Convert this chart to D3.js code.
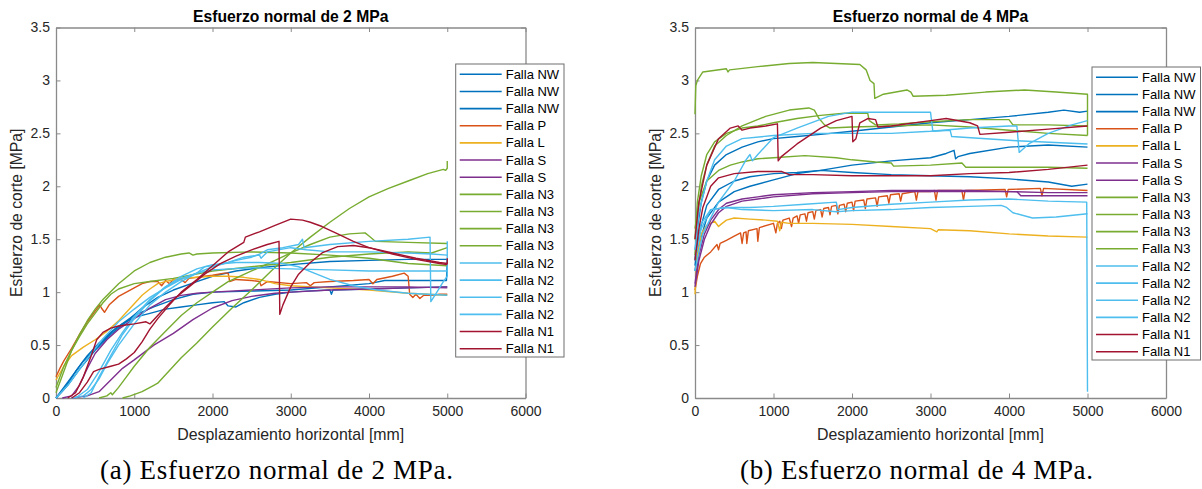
<!DOCTYPE html>
<html><head><meta charset="utf-8">
<script src="https://cdn.jsdelivr.net/npm/d3@7"></script>
<style>body{margin:0;background:#fff}svg{display:block}</style>
</head><body>
<svg id="chart" width="1202" height="489"></svg>
<script>
// ---------- tick labels / legend ----------
const xTicks = [0,1000,2000,3000,4000,5000,6000];
const yTicks = [0,0.5,1,1.5,2,2.5,3,3.5];
const legendLabels = ["Falla NW","Falla NW","Falla NW","Falla P","Falla L","Falla S","Falla S",
  "Falla N3","Falla N3","Falla N3","Falla N3","Falla N2","Falla N2","Falla N2","Falla N2","Falla N1","Falla N1"];
const seriesColors = ["#0072BD","#0072BD","#0072BD","#D95319","#EDB120","#7E2F8E","#7E2F8E",
  "#77AC30","#77AC30","#77AC30","#77AC30","#4DBEEE","#4DBEEE","#4DBEEE","#4DBEEE","#A2142F","#A2142F"];
const titles = ["Esfuerzo normal de 2 MPa","Esfuerzo normal de 4 MPa"];
const captions = ["(a) Esfuerzo normal de 2 MPa.","(b) Esfuerzo normal de 4 MPa."];
const xLabel = "Desplazamiento horizontal [mm]";
const yLabel = "Esfuerzo de corte [MPa]";

// ---------- panel (a): 2 MPa ----------
const a_NW1 = [[0,0],[100,0.08],[250,0.25],[400,0.4],[550,0.52],[700,0.62],[850,0.7],[1000,0.76],[1100,0.78],[1200,0.8],[1400,0.84],[1600,0.86],[1800,0.88],[2000,0.9],[2150,0.91],[2200,0.87],[2300,0.86],[2400,0.9],[2600,0.95],[2800,0.98],[3000,1.0],[3200,1.01],[3500,1.02],[3520,0.98],[3540,1.02],[4000,1.03],[4500,1.04],[5000,1.05]];
const a_NW2 = [[0,0],[150,0.12],[300,0.27],[500,0.45],[700,0.6],[900,0.72],[1100,0.85],[1300,0.95],[1500,1.02],[1800,1.1],[2000,1.15],[2300,1.2],[2600,1.23],[3000,1.26],[3500,1.29],[4000,1.3],[4500,1.31],[5000,1.31]];
const a_NW3 = [[0,0],[150,0.15],[350,0.35],[550,0.5],[750,0.65],[1000,0.78],[1250,0.86],[1500,0.93],[1750,0.98],[2000,1.0],[2500,1.01],[3000,1.02],[3500,1.05],[4000,1.08],[4200,1.11],[4990,1.11],[5000,1.31]];
const a_P = [[0,0.2],[50,0.28],[100,0.35],[200,0.47],[300,0.6],[400,0.72],[500,0.82],[560,0.88],[580,0.85],[620,0.81],[680,0.88],[800,0.96],[900,1.0],[1000,1.04],[1100,1.08],[1200,1.1],[1300,1.1],[1350,1.06],[1400,1.11],[1450,1.08],[1500,1.12],[1600,1.12],[1650,1.09],[1700,1.13],[1900,1.15],[2000,1.16],[2150,1.18],[2200,1.18],[2220,1.1],[2300,1.12],[2500,1.11],[2600,1.1],[2620,1.06],[2700,1.1],[3000,1.08],[3200,1.09],[3250,1.06],[3300,1.09],[3500,1.1],[3800,1.11],[4000,1.12],[4050,1.08],[4100,1.12],[4300,1.15],[4450,1.18],[4500,1.15],[4520,0.98],[4560,0.95],[4600,0.98],[4650,0.94],[4700,0.97],[4800,0.97],[4900,0.98],[5000,0.98]];
const a_L = [[0,0.17],[100,0.3],[200,0.4],[350,0.48],[500,0.55],[650,0.63],[800,0.73],[950,0.85],[1100,0.97],[1200,1.03],[1300,1.08],[1400,1.1],[1600,1.13],[1800,1.14],[2000,1.15],[2200,1.15],[2400,1.14],[2600,1.12],[2800,1.08],[3000,1.06],[3500,1.04],[4000,1.02],[4500,0.99],[5000,0.97]];
const a_S1 = [[80,0],[200,0.02],[300,0.12],[400,0.28],[500,0.42],[650,0.55],[800,0.65],[1000,0.75],[1200,0.85],[1400,0.93],[1600,0.97],[1800,0.99],[2000,1.0],[2500,1.02],[3000,1.04],[3500,1.05],[4000,1.05],[4500,1.05],[5000,1.04]];
const a_S2 = [[200,0],[400,0.02],[550,0.06],[700,0.17],[850,0.28],[1000,0.36],[1250,0.5],[1500,0.61],[1750,0.74],[2000,0.85],[2250,0.92],[2500,0.96],[2800,0.99],[3000,1.0],[3500,1.02],[4000,1.03],[4500,1.04],[5000,1.05]];
const a_N3_1 = [[850,0],[950,0.02],[1100,0.06],[1250,0.12],[1300,0.14],[1400,0.22],[1600,0.38],[1800,0.52],[2000,0.67],[2250,0.85],[2500,1.02],[2750,1.2],[3000,1.37],[3250,1.52],[3500,1.66],[3750,1.79],[4000,1.9],[4250,1.98],[4500,2.05],[4750,2.12],[4950,2.16],[4980,2.15],[5000,2.17],[5000,2.24]];
const a_N3_2 = [[0,0.05],[100,0.25],[200,0.45],[300,0.6],[400,0.73],[500,0.84],[600,0.93],[800,1.08],[1000,1.2],[1200,1.28],[1400,1.33],[1600,1.36],[1700,1.37],[1750,1.35],[1800,1.36],[2000,1.37],[2500,1.38],[3000,1.37],[3500,1.35],[4000,1.32],[4500,1.27],[5000,1.25]];
const a_N3_3 = [[0,0.1],[100,0.3],[200,0.45],[300,0.58],[400,0.7],[500,0.8],[600,0.9],[700,0.98],[800,1.03],[1000,1.08],[1200,1.1],[1500,1.13],[2000,1.2],[2500,1.24],[3000,1.28],[3500,1.33],[4000,1.36],[4500,1.38],[4800,1.37],[5000,1.42]];
const a_N3_4 = [[550,0],[650,0.02],[700,0.05],[720,0.03],[800,0.1],[900,0.2],[1000,0.3],[1200,0.48],[1400,0.63],[1600,0.78],[1800,0.9],[2000,1.0],[2200,1.1],[2500,1.2],[2800,1.3],[3000,1.37],[3250,1.45],[3500,1.52],[3750,1.55],[3950,1.56],[4000,1.53],[4080,1.48],[4500,1.47],[5000,1.46]];
const a_N2_1 = [[200,0],[350,0.02],[450,0.08],[550,0.18],[650,0.32],[800,0.5],[1000,0.7],[1200,0.88],[1400,1.0],[1600,1.1],[1800,1.18],[2000,1.24],[2300,1.3],[2500,1.33],[2600,1.36],[2700,1.4],[2900,1.42],[3100,1.45],[3150,1.5],[3170,1.42],[3500,1.45],[4000,1.48],[4500,1.5],[4780,1.52],[4790,0.91],[4850,0.98],[4950,1.1],[5000,1.15],[5000,1.48]];
const a_N2_2 = [[350,0],[450,0.05],[550,0.2],[700,0.4],[850,0.6],[1000,0.75],[1200,0.92],[1400,1.05],[1600,1.15],[1800,1.22],[2000,1.26],[2300,1.28],[2600,1.28],[2900,1.27],[3100,1.24],[3300,1.18],[3500,1.12],[3800,1.06],[4100,1.02],[4500,0.99],[5000,0.97]];
const a_N2_3 = [[0,0],[150,0.12],[300,0.27],[450,0.42],[600,0.56],[800,0.72],[1000,0.84],[1200,0.95],[1400,1.04],[1600,1.12],[1800,1.18],[1900,1.24],[2000,1.25],[2200,1.28],[2400,1.33],[2600,1.35],[2620,1.32],[2700,1.38],[3000,1.42],[3200,1.4],[3500,1.38],[4000,1.38],[4500,1.37],[4800,1.36],[5000,1.35]];
const a_N2_4 = [[250,0],[400,0.08],[550,0.25],[700,0.45],[850,0.62],[1000,0.77],[1200,0.93],[1400,1.05],[1600,1.13],[1800,1.18],[2000,1.21],[2500,1.23],[3000,1.22],[3500,1.21],[4000,1.2],[4500,1.2],[5000,1.2]];
const a_N1_1 = [[150,0],[250,0.05],[350,0.2],[450,0.4],[520,0.55],[600,0.62],[700,0.66],[800,0.68],[1000,0.7],[1150,0.72],[1200,0.7],[1250,0.74],[1350,0.82],[1500,0.93],[1700,1.05],[1900,1.17],[2100,1.27],[2300,1.34],[2500,1.4],[2700,1.45],[2850,1.48],[2860,0.79],[2900,0.88],[3000,1.05],[3100,1.17],[3250,1.28],[3400,1.37],[3600,1.43],[3800,1.44],[4000,1.42],[4300,1.37],[4600,1.32],[4900,1.28],[5000,1.27],[5000,1.32]];
const a_N1_2 = [[200,0],[300,0.05],[400,0.15],[480,0.25],[550,0.27],[700,0.3],[800,0.32],[900,0.37],[1000,0.43],[1100,0.53],[1200,0.65],[1300,0.75],[1450,0.88],[1600,1.0],[1800,1.12],[2000,1.25],[2200,1.38],[2400,1.47],[2420,1.52],[2600,1.57],[2800,1.63],[3000,1.69],[3150,1.68],[3250,1.66],[3400,1.62],[3600,1.55],[3800,1.48],[4000,1.42],[4300,1.36],[4600,1.31],[4900,1.27],[5000,1.26]];

// ---------- panel (b): 4 MPa ----------
const b_NW1 = [[0,1.3],[30,1.6],[80,1.85],[150,2.05],[250,2.2],[400,2.3],[600,2.37],[800,2.42],[1000,2.45],[1300,2.47],[1600,2.49],[2000,2.52],[2500,2.56],[3000,2.6],[3500,2.63],[4000,2.66],[4500,2.7],[4700,2.72],[4900,2.7],[5000,2.71]];
const b_NW2 = [[0,1.2],[50,1.45],[150,1.7],[300,1.85],[500,1.95],[700,2.0],[1000,2.06],[1300,2.12],[1600,2.15],[2000,2.2],[2500,2.24],[3000,2.27],[3200,2.31],[3300,2.34],[3320,2.26],[3350,2.28],[3500,2.31],[4000,2.37],[4500,2.39],[5000,2.37]];
const b_NW3 = [[0,1.25],[50,1.55],[150,1.82],[300,1.97],[500,2.05],[700,2.09],[1000,2.12],[1300,2.13],[1600,2.15],[2000,2.13],[2500,2.11],[3000,2.1],[3500,2.09],[4000,2.07],[4500,2.04],[4800,2.0],[5000,2.02]];
const b_P = [[0,1.02],[30,1.15],[70,1.27],[120,1.33],[200,1.38],[280,1.45],[300,1.4],[320,1.46],[400,1.49],[500,1.53],[580,1.56],[600,1.46],[620,1.56],[650,1.57],[660,1.46],[680,1.58],[790,1.6],[800,1.48],[820,1.61],[1000,1.65],[1030,1.56],[1050,1.65],[1080,1.67],[1100,1.6],[1120,1.68],[1200,1.7],[1230,1.62],[1250,1.7],[1300,1.72],[1320,1.65],[1340,1.73],[1400,1.74],[1420,1.67],[1440,1.75],[1500,1.76],[1520,1.69],[1540,1.77],[1600,1.78],[1620,1.71],[1640,1.79],[1700,1.8],[1720,1.73],[1740,1.81],[1800,1.82],[1820,1.74],[1840,1.82],[1900,1.83],[1920,1.76],[1940,1.84],[2000,1.85],[2020,1.77],[2040,1.86],[2150,1.87],[2170,1.79],[2190,1.88],[2300,1.89],[2320,1.81],[2340,1.9],[2450,1.91],[2470,1.84],[2490,1.92],[2600,1.93],[2620,1.86],[2640,1.93],[2800,1.95],[2820,1.87],[2840,1.95],[3000,1.95],[3050,1.96],[3070,1.87],[3090,1.96],[3400,1.96],[3420,1.87],[3440,1.96],[3950,1.97],[3970,1.9],[3990,1.97],[4400,1.98],[4420,1.91],[4440,1.98],[5000,1.96]];
const b_L = [[0,0.98],[10,1.1],[30,1.35],[80,1.55],[150,1.63],[250,1.67],[300,1.62],[330,1.64],[400,1.68],[500,1.7],[700,1.69],[900,1.68],[1050,1.67],[1080,1.58],[1100,1.66],[1200,1.65],[1500,1.65],[2000,1.64],[2500,1.62],[3000,1.6],[3080,1.57],[3100,1.59],[3500,1.58],[4000,1.55],[4500,1.53],[5000,1.52]];
const b_S1 = [[0,1.08],[50,1.35],[120,1.55],[200,1.68],[300,1.78],[400,1.84],[600,1.88],[800,1.9],[1000,1.92],[1500,1.94],[2000,1.95],[2500,1.96],[3000,1.96],[3500,1.96],[4000,1.95],[4500,1.94],[5000,1.94]];
const b_S2 = [[0,1.05],[50,1.3],[120,1.5],[200,1.64],[300,1.75],[400,1.81],[600,1.86],[800,1.88],[1000,1.9],[1500,1.93],[2000,1.94],[2500,1.95],[3000,1.95],[3500,1.95],[4100,1.95],[4150,1.91],[4500,1.91],[5000,1.91]];
const b_N3_1 = [[0,2.68],[10,2.95],[30,3.0],[100,3.08],[400,3.11],[420,3.08],[440,3.1],[800,3.13],[1200,3.16],[1500,3.17],[1800,3.16],[2100,3.15],[2180,3.1],[2230,3.0],[2280,2.97],[2290,2.83],[2400,2.87],[2700,2.91],[2750,2.89],[2780,2.85],[3200,2.86],[3700,2.89],[4200,2.91],[4600,2.89],[5000,2.87],[5000,2.48]];
const b_N3_2 = [[0,1.35],[30,1.7],[80,2.0],[150,2.2],[250,2.38],[400,2.48],[600,2.57],[900,2.66],[1200,2.72],[1450,2.74],[1520,2.72],[1580,2.64],[1650,2.58],[1720,2.55],[2000,2.56],[2500,2.57],[3000,2.58],[3500,2.56],[4000,2.53],[4500,2.5],[5000,2.48]];
const b_N3_3 = [[0,1.5],[30,1.85],[80,2.1],[150,2.3],[250,2.42],[400,2.5],[600,2.55],[800,2.57],[1000,2.6],[1300,2.64],[1600,2.67],[1900,2.69],[2200,2.69],[2220,2.62],[2300,2.58],[2600,2.59],[3000,2.61],[3500,2.63],[4000,2.63],[4050,2.58],[4500,2.58],[5000,2.57]];
const b_N3_4 = [[0,1.6],[50,1.85],[150,2.05],[300,2.15],[450,2.2],[600,2.23],[800,2.26],[1000,2.27],[1400,2.29],[1800,2.27],[2000,2.25],[2300,2.23],[2500,2.22],[2530,2.19],[3000,2.2],[3400,2.22],[3450,2.18],[4000,2.18],[4500,2.18],[5000,2.17]];
const b_N2_1 = [[0,1.2],[100,1.55],[300,1.85],[500,2.05],[650,2.25],[700,2.3],[730,2.24],[800,2.3],[1000,2.46],[1300,2.55],[1700,2.66],[2000,2.7],[2500,2.7],[3000,2.7],[3030,2.52],[3250,2.53],[3270,2.47],[4100,2.43],[5000,2.4]];
const b_N2_2 = [[0,1.4],[50,1.75],[150,2.05],[250,2.25],[400,2.38],[600,2.45],[1000,2.48],[1500,2.5],[2000,2.5],[2500,2.5],[3000,2.52],[3500,2.55],[4000,2.57],[4100,2.57],[4130,2.32],[4250,2.4],[4500,2.5],[4800,2.58],[5000,2.62]];
const b_N2_3 = [[0,1.3],[80,1.6],[200,1.78],[400,1.8],[700,1.8],[1000,1.81],[1400,1.83],[1800,1.85],[1820,1.78],[2000,1.8],[2500,1.83],[3000,1.85],[3500,1.87],[4000,1.88],[4500,1.86],[4990,1.85],[5000,0.06]];
const b_N2_4 = [[0,1.4],[80,1.65],[200,1.78],[400,1.8],[600,1.78],[1000,1.77],[1500,1.78],[1800,1.76],[2000,1.77],[2500,1.78],[3000,1.8],[3500,1.81],[3900,1.82],[3970,1.8],[4050,1.75],[4300,1.7],[4600,1.71],[5000,1.74]];
const b_N1_1 = [[0,1.5],[50,1.85],[150,2.2],[300,2.45],[450,2.55],[550,2.57],[600,2.53],[700,2.55],[900,2.57],[1050,2.59],[1060,2.24],[1100,2.28],[1300,2.4],[1600,2.55],[1800,2.62],[2000,2.66],[2010,2.42],[2050,2.45],[2100,2.6],[2200,2.64],[2300,2.63],[2330,2.56],[2500,2.57],[3000,2.62],[3200,2.64],[3500,2.6],[3600,2.57],[3630,2.49],[4000,2.51],[4500,2.54],[5000,2.57]];
const b_N1_2 = [[0,1.3],[50,1.6],[100,1.8],[200,2.0],[300,2.08],[500,2.12],[800,2.14],[1100,2.14],[1200,2.11],[1500,2.11],[2000,2.1],[2500,2.1],[3000,2.1],[3500,2.12],[4000,2.13],[4500,2.16],[5000,2.2]];

const seriesA = [a_NW1,a_NW2,a_NW3,a_P,a_L,a_S1,a_S2,a_N3_1,a_N3_2,a_N3_3,a_N3_4,a_N2_1,a_N2_2,a_N2_3,a_N2_4,a_N1_1,a_N1_2];
const seriesB = [b_NW1,b_NW2,b_NW3,b_P,b_L,b_S1,b_S2,b_N3_1,b_N3_2,b_N3_3,b_N3_4,b_N2_1,b_N2_2,b_N2_3,b_N2_4,b_N1_1,b_N1_2];

// ---------- drawing ----------
const svg = d3.select("#chart");
svg.append("rect").attr("width",1202).attr("height",489).attr("fill","#fff");
const FONT = "'Liberation Sans', Arial, Helvetica, sans-serif";
const AXC = "#8a8a8a", TXC = "#262626";

function panel(cfg, series, idx){
  const g = svg.append("g");
  const x = d3.scaleLinear().domain([0,6000]).range([cfg.left, cfg.right]);
  const y = d3.scaleLinear().domain([0,3.5]).range([cfg.bottom, cfg.top]);
  const TL = 4.5;

  const axB = g.append("g").attr("transform",`translate(0,${cfg.bottom})`)
    .call(d3.axisBottom(x).tickValues(xTicks).tickSizeInner(-TL).tickSizeOuter(0).tickPadding(10).tickFormat(d3.format("d")));
  const axT = g.append("g").attr("transform",`translate(0,${cfg.top})`)
    .call(d3.axisTop(x).tickValues(xTicks).tickSizeInner(-TL).tickSizeOuter(0).tickFormat(""));
  const axL = g.append("g").attr("transform",`translate(${cfg.left},0)`)
    .call(d3.axisLeft(y).tickValues(yTicks).tickSizeInner(-TL).tickSizeOuter(0).tickPadding(6).tickFormat(d=>String(d)));
  const axR = g.append("g").attr("transform",`translate(${cfg.right},0)`)
    .call(d3.axisRight(y).tickValues(yTicks).tickSizeInner(-TL).tickSizeOuter(0).tickFormat(""));
  [axB,axT,axL,axR].forEach(a=>{
    a.select(".domain").attr("stroke",AXC).attr("stroke-width",1.3);
    a.selectAll(".tick line").attr("stroke",AXC).attr("stroke-width",1);
    a.selectAll("text").attr("fill",TXC).style("font-family",FONT).style("font-size","14px");
  });
  axB.selectAll("text").attr("dy","0.55em");

  const line = d3.line().x(d=>x(d[0])).y(d=>y(d[1]));
  series.forEach((s,i)=>{
    g.append("path").datum(s).attr("d",line).attr("fill","none")
      .attr("stroke",seriesColors[i]).attr("stroke-width",1.4).attr("stroke-linejoin","round");
  });

  g.append("text").attr("x",(cfg.left+cfg.right)/2).attr("y",21.5).attr("text-anchor","middle")
    .style("font-family",FONT).style("font-size","15.7px").style("font-weight","bold").attr("fill","#000")
    .text(titles[idx]);
  g.append("text").attr("x",(cfg.left+cfg.right)/2).attr("y",440).attr("text-anchor","middle")
    .style("font-family",FONT).style("font-size","15.9px").attr("fill",TXC).text(xLabel);
  g.append("text").attr("transform",`translate(${cfg.left-34},${(cfg.top+cfg.bottom)/2}) rotate(-90)`)
    .attr("text-anchor","middle").style("font-family",FONT).style("font-size","15.7px").attr("fill",TXC).text(yLabel);

  const lg = g.append("g");
  lg.append("rect").attr("x",cfg.lgX).attr("y",cfg.lgY).attr("width",cfg.lgW).attr("height",293)
    .attr("fill","#fff").attr("stroke","#6e6e6e").attr("stroke-width",1);
  legendLabels.forEach((lab,i)=>{
    const yy = cfg.lgY + 10.3 + i*17.15;
    lg.append("line").attr("x1",cfg.lgX+4).attr("x2",cfg.lgX+46).attr("y1",yy).attr("y2",yy)
      .attr("stroke",seriesColors[i]).attr("stroke-width",1.6);
    lg.append("text").attr("x",cfg.lgX+50).attr("y",yy).attr("dy","0.35em")
      .style("font-family",FONT).style("font-size","13px").attr("fill","#000").text(lab);
  });

  svg.append("text").attr("x",cfg.capX).attr("y",479).attr("text-anchor","middle")
    .style("font-family","'Liberation Serif','DejaVu Serif',serif").style("font-size","27px").attr("fill","#000")
    .attr("textLength",353).attr("lengthAdjust","spacing")
    .text(captions[idx]);
}

panel({left:56,right:525.5,top:27.5,bottom:398,lgX:455.7,lgY:64,lgW:108.3,capX:276.5}, seriesA, 0);
panel({left:695,right:1166,top:27.5,bottom:398,lgX:1092,lgY:67,lgW:108.5,capX:916.5}, seriesB, 1);
</script>
</body></html>
